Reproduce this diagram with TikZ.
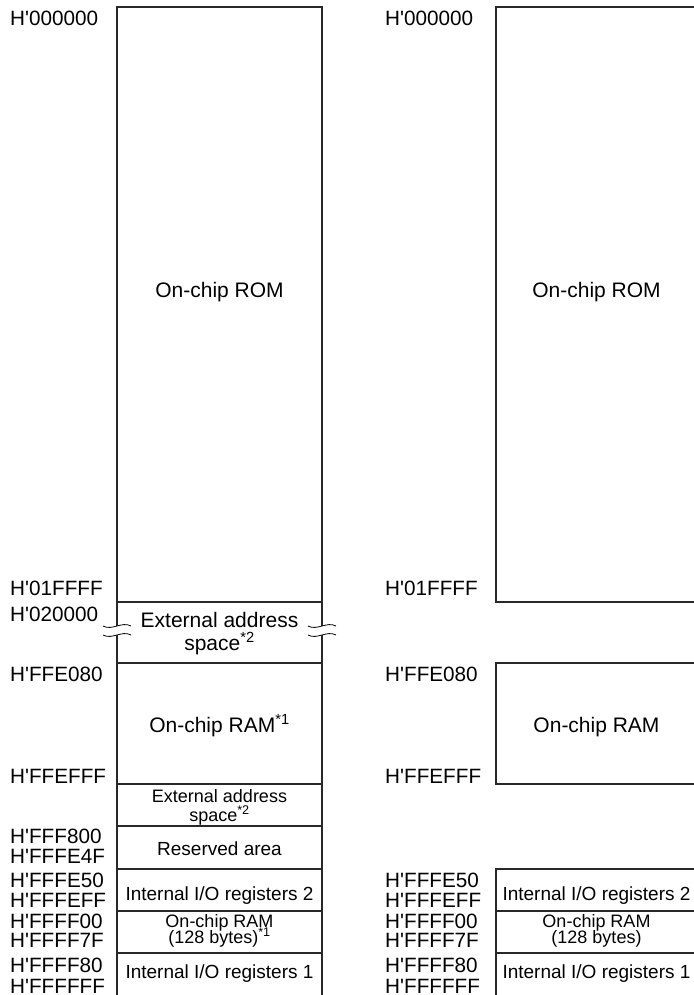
\documentclass[tikz,border=0pt]{standalone}
\usepackage{fontspec}
\usepackage{tikz}
\newfontfamily\mapfont{Liberation Sans}
\definecolor{edgegray}{RGB}{40, 40, 40}
\newcommand{\wavebreak}[2]{
\fill[white] (#1-14,#2) .. controls (#1-5,#2+5) and (#1+5,#2-5) .. (#1+14,#2)
  -- (#1+14,#2+9) .. controls (#1+5,#2+4) and (#1-5,#2+14) .. (#1-14,#2+9) -- cycle;
\draw[line width=0.8pt] (#1-14,#2) .. controls (#1-5,#2+5) and (#1+5,#2-5) .. (#1+14,#2);
\draw[line width=0.8pt] (#1-14,#2+9) .. controls (#1-5,#2+14) and (#1+5,#2+4) .. (#1+14,#2+9);
}

\begin{document}
\begin{tikzpicture}[x=1pt, y=-1pt,
    addr/.style={anchor=base west, inner sep=0pt, font=\mapfont\fontsize{20.7}{24}\selectfont},
    bigtxt/.style={anchor=base, inner sep=0pt, font=\mapfont\fontsize{21}{24}\selectfont},
    midtxt/.style={anchor=base, inner sep=0pt, font=\mapfont\fontsize{19}{22}\selectfont},
    smalltxt/.style={anchor=base, inner sep=0pt, font=\mapfont\fontsize{18}{20}\selectfont},
    mapline/.style={line width=1.2pt, edgegray}]
    \useasboundingbox (0,0) rectangle (693,995);

    % left map
    \draw[mapline] (117,1000) -- (117,7) -- (322,7) -- (322,1000);
    \foreach \yy in {602,663,784,826,869,911,953}
    {
        \draw[mapline] (117,\yy) -- (322,\yy);
    }
    \wavebreak{117}{626}
    \wavebreak{322}{626}

    \foreach \yy/\txt [count=\i] in {26/H'000000, 595/H'01FFFF, 621/H'020000,
        681/H'FFE080, 783/H'FFEFFF, 843/H'FFF800, 863/H'FFFE4F, 887/H'FFFE50,
        907/H'FFFEFF, 928/H'FFFF00, 947/H'FFFF7F, 972/H'FFFF80, 993/H'FFFFFF}
    {
        \node[addr] (la\i) at (10,\yy) {\txt};
    }

    \node[bigtxt] (lrom) at (219.5,297) {On-chip ROM};
    \node[bigtxt] (lext) at (219.5,627) {External address};
    \node[bigtxt] (lexts) at (219.5,650) {space\textsuperscript{*2}};
    \node[bigtxt] (lram) at (219.5,732) {On-chip RAM\textsuperscript{*1}};
    \node[smalltxt] (lext2) at (219.5,802) {External address};
    \node[smalltxt] (lext2s) at (219.5,821) {space\textsuperscript{*2}};
    \node[midtxt] (lres) at (219.5,855) {Reserved area};
    \node[midtxt] (lio2) at (219.5,900) {Internal I/O registers 2};
    \node[smalltxt] (lsram) at (219.5,927) {On-chip RAM};
    \node[smalltxt] (lsrams) at (219.5,943) {(128 bytes)\textsuperscript{*1}};
    \node[midtxt] (lio1) at (219.5,978) {Internal I/O registers 1};

    % right map
    \draw[mapline] (496,7) rectangle (697,602);
    \draw[mapline] (496,663) rectangle (697,784);
    \draw[mapline] (496,869) rectangle (697,1000);
    \draw[mapline] (496,911) -- (697,911);
    \draw[mapline] (496,953) -- (697,953);

    \foreach \yy/\txt [count=\i] in {26/H'000000, 595/H'01FFFF, 681/H'FFE080,
        783/H'FFEFFF, 887/H'FFFE50, 907/H'FFFEFF, 928/H'FFFF00, 947/H'FFFF7F,
        972/H'FFFF80, 993/H'FFFFFF}
    {
        \node[addr] (ra\i) at (385,\yy) {\txt};
    }

    \node[bigtxt] (rrom) at (596.5,297) {On-chip ROM};
    \node[bigtxt] (rram) at (596.5,732) {On-chip RAM};
    \node[midtxt] (rio2) at (596.5,900) {Internal I/O registers 2};
    \node[smalltxt] (rsram) at (596.5,927) {On-chip RAM};
    \node[smalltxt] (rsrams) at (596.5,943) {(128 bytes)};
    \node[midtxt] (rio1) at (596.5,978) {Internal I/O registers 1};
\end{tikzpicture}
\end{document}
